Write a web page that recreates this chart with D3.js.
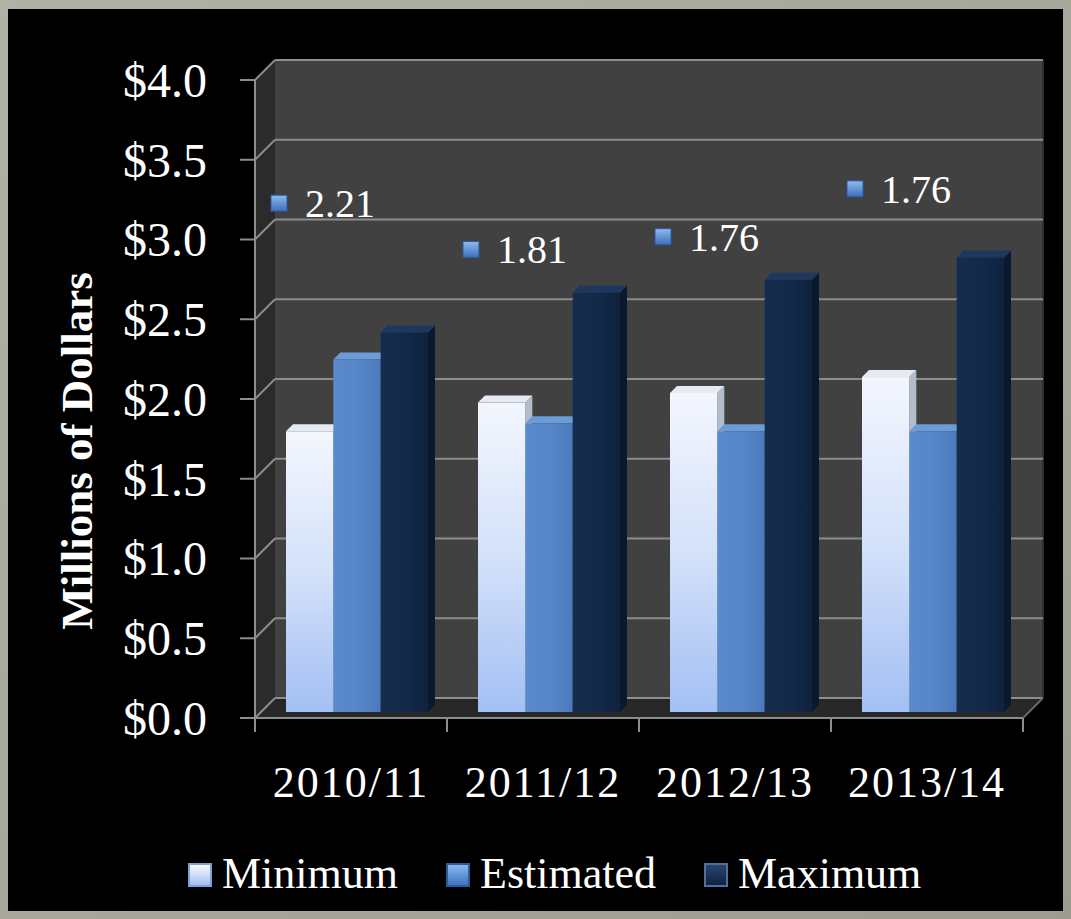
<!DOCTYPE html>
<html>
<head>
<meta charset="utf-8">
<script src="https://cdn.jsdelivr.net/npm/d3@7"></script>
<style>
html,body{margin:0;padding:0;background:#000;}
svg{display:block;}
</style>
</head>
<body>
<div class="chartWrapper"></div>
<script>
// chart data
var categories = ['2010/11','2011/12','2012/13','2013/14'];
var seriesNames = ['Minimum','Estimated','Maximum'];
var minimum = [1.76, 1.94, 2.00, 2.10];
var estimated = [2.21, 1.81, 1.76, 1.76];
var maximum = [2.38, 2.63, 2.71, 2.85];
var yTicks = [0, 0.5, 1.0, 1.5, 2.0, 2.5, 3.0, 3.5, 4.0];
var estLabels = ['2.21','1.81','1.76','1.76'];
var labelLevels = [3.19, 2.90, 2.98, 3.28];   // where the floating labels sit, in $M

var W = 1071, H = 919;
var depth = 20;      // wall depth offset
var barShift = 6;    // bars stand half way back
var barTop = 7;      // bar top face depth
var serif = '"Liberation Serif", "DejaVu Serif", serif';

var svg = d3.select('.chartWrapper')
    .append('svg')
    .attr('width', W)
    .attr('height', H);

var defs = svg.append('defs');
function grad(id, stops, x2, y2) {
    var g = defs.append('linearGradient').attr('id', id)
        .attr('x1', 0).attr('y1', 0).attr('x2', x2).attr('y2', y2);
    stops.forEach(function (s) {
        g.append('stop').attr('offset', s[0]).attr('stop-color', s[1]);
    });
}
grad('frameG', [[0,'#b2b1a6'],[1,'#9d9c90']], 1, 1);
grad('minFront', [[0,'#f3f6fd'],[0.5,'#d4e1fa'],[1,'#a3bff3']], 0, 1);
grad('estFront', [[0,'#5b8bcc'],[0.5,'#5686c7'],[1,'#4c7bbd']], 1, 0);
grad('maxFront', [[0,'#152c4e'],[0.5,'#132a4a'],[1,'#0f223e']], 1, 0);
grad('minKey', [[0,'#ffffff'],[1,'#9ebcf0']], 0, 1);
grad('estKey', [[0,'#8dbaf0'],[1,'#3b70bd']], 0, 1);
grad('maxKey', [[0,'#2a4670'],[1,'#0f223e']], 0, 1);

var faces = {
    Minimum:   { front: 'url(#minFront)', top: '#e6ebf3', side: '#b3bccb', key: 'url(#minKey)', keyStroke: '#7f9fd6' },
    Estimated: { front: 'url(#estFront)', top: '#6b9bd9', side: '#3e6aa6', key: 'url(#estKey)', keyStroke: '#2d5a99' },
    Maximum:   { front: 'url(#maxFront)', top: '#1d375e', side: '#0a1830', key: 'url(#maxKey)', keyStroke: '#4f6f9c' }
};

// frame
svg.append('rect').attr('width', W).attr('height', H).attr('fill', 'url(#frameG)');
svg.append('rect').attr('x', 8).attr('y', 9).attr('width', 1055).attr('height', 902).attr('fill', '#000');

// scales
var yScale = d3.scaleLinear().domain([0, 4]).range([718, 80]);
var xScale = d3.scaleBand().domain(categories).range([255, 1023]);
var xInner = d3.scaleBand().domain(seriesNames).range([25, xScale.bandwidth() - 25]);

var x0 = xScale.range()[0], x1 = xScale.range()[1];
var yTop = yScale(4), yBase = yScale(0);
var gridColor = '#8d8d8d';

// walls
svg.append('rect')
    .attr('x', x0 + depth).attr('y', yTop - depth)
    .attr('width', x1 - x0).attr('height', yBase - yTop)
    .attr('fill', '#414141');
svg.append('polygon')
    .attr('points', [[x0, yTop], [x0 + depth, yTop - depth], [x0 + depth, yBase - depth], [x0, yBase]].join(' '))
    .attr('fill', '#2b2b2b');
svg.append('polygon')
    .attr('points', [[x0, yBase], [x0 + depth, yBase - depth], [x1 + depth, yBase - depth], [x1, yBase]].join(' '))
    .attr('fill', '#272727')
    .attr('stroke', '#555').attr('stroke-width', 1);
svg.append('line')
    .attr('x1', x1 + depth).attr('x2', x1 + depth)
    .attr('y1', yTop - depth).attr('y2', yBase - depth)
    .attr('stroke', '#2e2e2e').attr('stroke-width', 2);

// gridlines on the back and side walls
var grid = svg.append('g').attr('class', 'grid');
grid.selectAll('.back').data(yTicks).enter().append('line')
    .attr('x1', x0 + depth).attr('x2', x1 + depth)
    .attr('y1', function (d) { return yScale(d) - depth; })
    .attr('y2', function (d) { return yScale(d) - depth; })
    .attr('stroke', gridColor).attr('stroke-width', 2);
grid.selectAll('.side').data(yTicks).enter().append('line')
    .attr('x1', x0).attr('x2', x0 + depth)
    .attr('y1', function (d) { return yScale(d); })
    .attr('y2', function (d) { return yScale(d) - depth; })
    .attr('stroke', gridColor).attr('stroke-width', 2);

// bars
var rows = categories.map(function (c, i) {
    return { cat: c, values: [
        { s: 'Minimum', v: minimum[i] },
        { s: 'Estimated', v: estimated[i] },
        { s: 'Maximum', v: maximum[i] }
    ] };
});
var bw = xInner.bandwidth();
var groups = svg.selectAll('.group').data(rows).enter().append('g')
    .attr('class', 'group')
    .attr('transform', function (d) { return 'translate(' + (xScale(d.cat) + barShift) + ',' + (-barShift) + ')'; });

var bar = groups.selectAll('.bar').data(function (d) { return d.values; }).enter().append('g').attr('class', 'bar');
bar.append('polygon')
    .attr('points', function (d) {
        var x = xInner(d.s), y = yScale(d.v);
        return [[x + bw, y], [x + bw + barTop, y - barTop], [x + bw + barTop, yBase - barTop], [x + bw, yBase]].join(' ');
    })
    .attr('fill', function (d) { return faces[d.s].side; });
bar.append('polygon')
    .attr('points', function (d) {
        var x = xInner(d.s), y = yScale(d.v);
        return [[x, y], [x + barTop, y - barTop], [x + bw + barTop, y - barTop], [x + bw, y]].join(' ');
    })
    .attr('fill', function (d) { return faces[d.s].top; });
bar.append('rect')
    .attr('x', function (d) { return xInner(d.s); })
    .attr('y', function (d) { return yScale(d.v); })
    .attr('width', bw)
    .attr('height', function (d) { return yBase - yScale(d.v); })
    .attr('fill', function (d) { return faces[d.s].front; });

// axes
var axis = svg.append('g').attr('class', 'axis');
axis.append('line').attr('x1', x0).attr('x2', x0).attr('y1', yTop).attr('y2', yBase)
    .attr('stroke', gridColor).attr('stroke-width', 2);
axis.append('line').attr('x1', x0 - 15).attr('x2', x1).attr('y1', yBase).attr('y2', yBase)
    .attr('stroke', gridColor).attr('stroke-width', 2);
axis.append('line').attr('x1', x1).attr('x2', x1 + depth).attr('y1', yBase).attr('y2', yBase - depth)
    .attr('stroke', '#666').attr('stroke-width', 2);
axis.selectAll('.ytick').data(yTicks).enter().append('line')
    .attr('x1', x0 - 15).attr('x2', x0)
    .attr('y1', function (d) { return yScale(d); })
    .attr('y2', function (d) { return yScale(d); })
    .attr('stroke', gridColor).attr('stroke-width', 2);
var xEdges = categories.map(function (c) { return xScale(c); }).concat([x1]);
axis.selectAll('.xtick').data(xEdges).enter().append('line')
    .attr('x1', function (d) { return d; }).attr('x2', function (d) { return d; })
    .attr('y1', yBase).attr('y2', yBase + 14)
    .attr('stroke', gridColor).attr('stroke-width', 2);

axis.selectAll('.ylabel').data(yTicks).enter().append('text')
    .attr('x', 207)
    .attr('y', function (d) { return yScale(d); })
    .attr('dy', '0.35em')
    .attr('text-anchor', 'end')
    .attr('fill', '#fff')
    .style('font-family', serif)
    .style('font-size', '48px')
    .text(function (d) { return '$' + d3.format('.1f')(d); });

axis.selectAll('.xlabel').data(categories).enter().append('text')
    .attr('x', function (d) { return xScale(d) + xScale.bandwidth() / 2; })
    .attr('y', 797)
    .attr('text-anchor', 'middle')
    .attr('fill', '#fff')
    .style('font-family', serif)
    .style('font-size', '44px')
    .style('letter-spacing', '2px')
    .text(function (d) { return d; });

svg.append('text')
    .attr('transform', 'translate(92,451) rotate(-90)')
    .attr('text-anchor', 'middle')
    .attr('fill', '#fff')
    .style('font-family', serif)
    .style('font-size', '45px')
    .style('font-weight', 'bold')
    .text('Millions of Dollars');

// floating value labels for the Estimated series
var labels = svg.selectAll('.vlabel').data(categories).enter().append('g').attr('class', 'vlabel');
labels.append('rect')
    .attr('x', function (d) { return xScale(d) + 16; })
    .attr('y', function (d, i) { return yScale(labelLevels[i]) - 8 - barShift; })
    .attr('width', 16).attr('height', 16)
    .attr('fill', 'url(#estKey)')
    .attr('stroke', '#2d5a99').attr('stroke-width', 1);
labels.append('text')
    .attr('x', function (d) { return xScale(d) + 50; })
    .attr('y', function (d, i) { return yScale(labelLevels[i]) - barShift; })
    .attr('dy', '0.35em')
    .attr('fill', '#fff')
    .style('font-family', serif)
    .style('font-size', '40px')
    .text(function (d, i) { return estLabels[i]; });

// legend
var legend = svg.append('g').attr('class', 'legend');
var lx = 189;
seriesNames.forEach(function (s) {
    legend.append('rect')
        .attr('x', lx).attr('y', 864)
        .attr('width', 22).attr('height', 22)
        .attr('fill', faces[s].key)
        .attr('stroke', faces[s].keyStroke).attr('stroke-width', 2);
    var t = legend.append('text')
        .attr('x', lx + 33).attr('y', 888)
        .attr('fill', '#fff')
        .style('font-family', serif)
        .style('font-size', '44px')
        .text(s);
    lx += 33 + t.node().getComputedTextLength() + 49;
});
</script>
</body>
</html>
